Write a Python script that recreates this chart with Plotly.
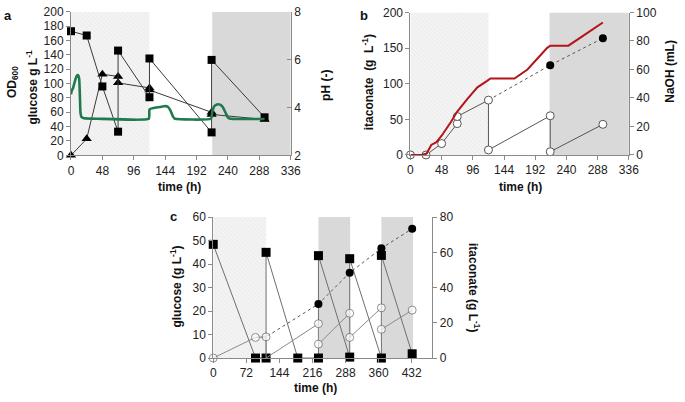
import plotly.graph_objects as go

# ---------------- data ----------------
# panel a
a_t = [0, 24, 48, 72, 72, 120, 120, 215, 215, 296]
a_glucose = [173, 167, 96, 33, 146, 81, 135, 32, 133, 53]
a_od600 = [0, 23, 113, 110, 101, 94, 91, 60, 57, 50]
a_ph_t = [0, 1, 3, 5, 7, 9, 11, 12.5, 13.5, 14.5, 16, 20, 40, 119, 120, 126, 136, 144, 148, 152, 156, 159, 214, 216, 219, 223, 228, 232, 236, 240, 244, 260, 296]
a_ph = [4.55, 4.7, 4.8, 5.0, 5.2, 5.33, 5.35, 5.2, 4.6, 3.8, 3.6, 3.55, 3.53, 3.53, 3.92, 3.98, 4.02, 4.06, 4.03, 3.88, 3.62, 3.53, 3.53, 3.8, 4.05, 4.13, 4.12, 4.02, 3.8, 3.58, 3.53, 3.52, 3.52]
a_ticks_x = [0, 48, 96, 144, 192, 240, 288, 336]

# panel b
b_t = [0, 24, 48, 72, 72, 120, 120, 215, 215, 296]
b_itaconate = [0, 0, 16, 44, 54, 77, 7, 55, 4.5, 43]
b_total_t = [120, 215, 296]
b_total = [77, 126, 164]
b_naoh_t = [0, 17, 25, 32, 40, 48, 62, 72, 88, 103, 118, 123, 160, 180, 200, 210, 215, 243, 270, 296]
b_naoh = [0, 0, 1, 7, 9, 13.5, 23, 30.5, 39.5, 47.5, 52, 53.7, 53.7, 60, 70, 75, 76.7, 76.7, 85, 93]

# panel c
c_glc_t = [0, 92, 115, 115, 184, 229, 229, 297, 297, 366, 366, 433]
c_glucose = [48.4, 0, 0, 45, 0, 0, 43.6, 0.4, 42.3, 0, 43.7, 1.8]
c_ita_t = [0, 92, 115, 115, 229, 229, 297, 297, 366, 366, 433]
c_itaconate = [0, 11.7, 12, 0, 19.5, 7.9, 25.4, 11.7, 28.5, 16.3, 27.2]
c_total_t = [92, 115, 229, 297, 366, 433]
c_total = [11.7, 12, 30.7, 48.4, 62.3, 73.4]
c_ticks_x = [0, 72, 144, 216, 288, 360, 432]

# phases
a_hatch = (0, 120)
a_gray = [(216, 336)]
b_hatch = (0, 120)
b_gray = [(214, 336)]
c_hatch = (0, 115)
c_gray = [(229, 298), (366, 435)]

# ---------------- figure ----------------
W, H = 685, 402
FONT = "Liberation Sans, Arial, sans-serif"
AX = "#8a8a8a"
LN = "#3a3a3a"


def px(x):
    return x / W


def py(y):
    return 1 - y / H


fig = go.Figure()


def hatch(x0, x1, y1, xa, ya):
    fig.add_trace(go.Scatter(
        x=[x0, x1, x1, x0, x0], y=[0, 0, y1, y1, 0], xaxis=xa, yaxis=ya,
        mode="lines", line=dict(width=0), fill="toself",
        fillcolor="#f3f3f3",
        fillpattern=dict(shape="\\", fgcolor="#e0e0e0", bgcolor="#f4f4f4", size=3, solidity=0.3),
        hoverinfo="skip", showlegend=False))


def gray(x0, x1, y1, xr, yr):
    fig.add_shape(type="rect", x0=x0, x1=x1, y0=0, y1=y1, xref=xr, yref=yr,
                  fillcolor="#d9d9d9", line=dict(width=0), layer="below")


# panel a shading
hatch(a_hatch[0], a_hatch[1], 200, "x", "y")
for g0, g1 in a_gray:
    gray(g0, g1, 200, "x", "y")
# panel b shading
hatch(b_hatch[0], b_hatch[1], 200, "x2", "y3")
for g0, g1 in b_gray:
    gray(g0, g1, 200, "x2", "y3")
# panel c shading
hatch(c_hatch[0], c_hatch[1], 60, "x3", "y5")
for g0, g1 in c_gray:
    gray(g0, g1, 60, "x3", "y5")

# ---- panel a traces
fig.add_trace(go.Scatter(x=a_t, y=a_od600, xaxis="x", yaxis="y", mode="lines+markers",
                         line=dict(color=LN, width=1),
                         marker=dict(symbol="triangle-up", size=9, color="black"),
                         cliponaxis=False, showlegend=False))
fig.add_trace(go.Scatter(x=a_t, y=a_glucose, xaxis="x", yaxis="y", mode="lines+markers",
                         line=dict(color=LN, width=1),
                         marker=dict(symbol="square", size=8, color="black"),
                         cliponaxis=False, showlegend=False))
fig.add_trace(go.Scatter(x=a_ph_t, y=a_ph, xaxis="x", yaxis="y2", mode="lines",
                         line=dict(color="#1f7a4c", width=2.6, shape="spline", smoothing=0.4),
                         showlegend=False))

# ---- panel b traces
fig.add_trace(go.Scatter(x=b_total_t, y=b_total, xaxis="x2", yaxis="y3", mode="lines",
                         line=dict(color="#555555", width=1, dash="dot"), showlegend=False))
fig.add_trace(go.Scatter(x=b_t, y=b_itaconate, xaxis="x2", yaxis="y3", mode="lines+markers",
                         line=dict(color="#555555", width=1),
                         marker=dict(symbol="circle", size=8, color="white",
                                     line=dict(color="#555555", width=1)),
                         cliponaxis=False, showlegend=False))
fig.add_trace(go.Scatter(x=b_total_t[1:], y=b_total[1:], xaxis="x2", yaxis="y3", mode="markers",
                         marker=dict(symbol="circle", size=8, color="black"),
                         cliponaxis=False, showlegend=False))
fig.add_trace(go.Scatter(x=b_naoh_t, y=b_naoh, xaxis="x2", yaxis="y4", mode="lines",
                         line=dict(color="#b3151b", width=2), showlegend=False))

# ---- panel c traces
fig.add_trace(go.Scatter(x=c_glc_t, y=c_glucose, xaxis="x3", yaxis="y5", mode="lines",
                         line=dict(color="#6e6e6e", width=1), showlegend=False))
fig.add_trace(go.Scatter(x=c_glc_t, y=c_glucose, xaxis="x3", yaxis="y5", mode="markers",
                         marker=dict(symbol="square", size=9, color="black"),
                         cliponaxis=False, showlegend=False))
fig.add_trace(go.Scatter(x=c_total_t, y=c_total, xaxis="x3", yaxis="y6", mode="lines",
                         line=dict(color="#555555", width=1, dash="dot"), showlegend=False))
c_sizes = [8] * len(c_ita_t)
c_sizes[3] = 0
fig.add_trace(go.Scatter(x=c_ita_t, y=c_itaconate, xaxis="x3", yaxis="y6", mode="lines+markers",
                         line=dict(color="#8a8a8a", width=1),
                         marker=dict(symbol="circle", size=c_sizes, color="white",
                                     line=dict(color="#666666", width=1)),
                         cliponaxis=False, showlegend=False))
fig.add_trace(go.Scatter(x=c_total_t[2:], y=c_total[2:], xaxis="x3", yaxis="y6", mode="markers",
                         marker=dict(symbol="circle", size=8, color="black"),
                         cliponaxis=False, showlegend=False))

tickfont = dict(family=FONT, size=12, color="#222222")


def xax(domain, rng, tv, anchor):
    return dict(domain=domain, range=rng, tickvals=tv, showline=True, linecolor=AX, linewidth=1,
                ticks="outside", ticklen=4, tickcolor=AX, showgrid=False, zeroline=False,
                tickfont=tickfont, anchor=anchor, fixedrange=True)


def yax(domain, rng, dtick, anchor, side="left", overlay=None, ticks="outside"):
    d = dict(range=rng, dtick=dtick, showline=True, linecolor=AX, linewidth=1,
             ticks=ticks, ticklen=4, tickcolor=AX, showgrid=False, zeroline=False,
             tickfont=tickfont, anchor=anchor, side=side, fixedrange=True)
    if overlay:
        d["overlaying"] = overlay
    else:
        d["domain"] = domain
    return d


fig.update_layout(
    width=W, height=H, margin=dict(l=0, r=0, t=0, b=0),
    paper_bgcolor="white", plot_bgcolor="rgba(0,0,0,0)", showlegend=False,
    font=dict(family=FONT, size=12, color="#222222"),
    xaxis=xax([px(69.3), px(293.3)], [0, 336], a_ticks_x, "y"),
    yaxis=yax([py(153.7), py(5)], [0, 200], 20, "x"),
    yaxis2=yax(None, [2, 8], 2, "x", side="right", overlay="y", ticks="inside"),
    xaxis2=xax([px(415.3), px(638)], [0, 336], a_ticks_x, "y3"),
    yaxis3=yax([py(153.3), py(5.7)], [0, 200], 50, "x2"),
    yaxis4=yax(None, [0, 100], 20, "x2", side="right", overlay="y3"),
    xaxis3=xax([px(214.3), px(437.7)], [0, 477], c_ticks_x, "y5"),
    yaxis5=yax([py(363.7), py(217.7)], [0, 60], 10, "x3"),
    yaxis6=yax(None, [0, 80], 20, "x3", side="right", overlay="y5"),
)


def ann(text, x, y, angle=0, size=12, bold=True):
    fig.add_annotation(text=("<b>%s</b>" % text) if bold else text, x=px(x), y=py(y),
                       xref="paper", yref="paper", showarrow=False, textangle=angle,
                       xanchor="center", yanchor="middle",
                       font=dict(family=FONT, size=size, color="#111111"))


ann("a", 5, 9, size=13)
ann("b", 368, 9, size=13)
ann("c", 174, 217, size=13)
ann("OD<sub>600</sub>", 10, 78, angle=-90)
ann("glucose g L<sup>-1</sup>", 30, 83, angle=-90)
ann("pH (-)", 329, 81, angle=-90)
ann("time (h)", 180, 187)
ann("itaconate\u00a0 (g\u00a0 L<sup>-1</sup>)", 372, 78, angle=-90)
ann("NaOH (mL)", 680, 67, angle=-90)
ann("time (h)", 528, 187)
ann("glucose (g L<sup>-1</sup>)", 176, 290, angle=-90)
ann("itaconate (g L<sup>-1</sup>)", 480, 291, angle=90)
ann("time (h)", 319, 395)

fig.write_html("out.html", config={"displayModeBar": False},
               post_script="document.body.style.margin='0';document.body.style.overflow='hidden';")
